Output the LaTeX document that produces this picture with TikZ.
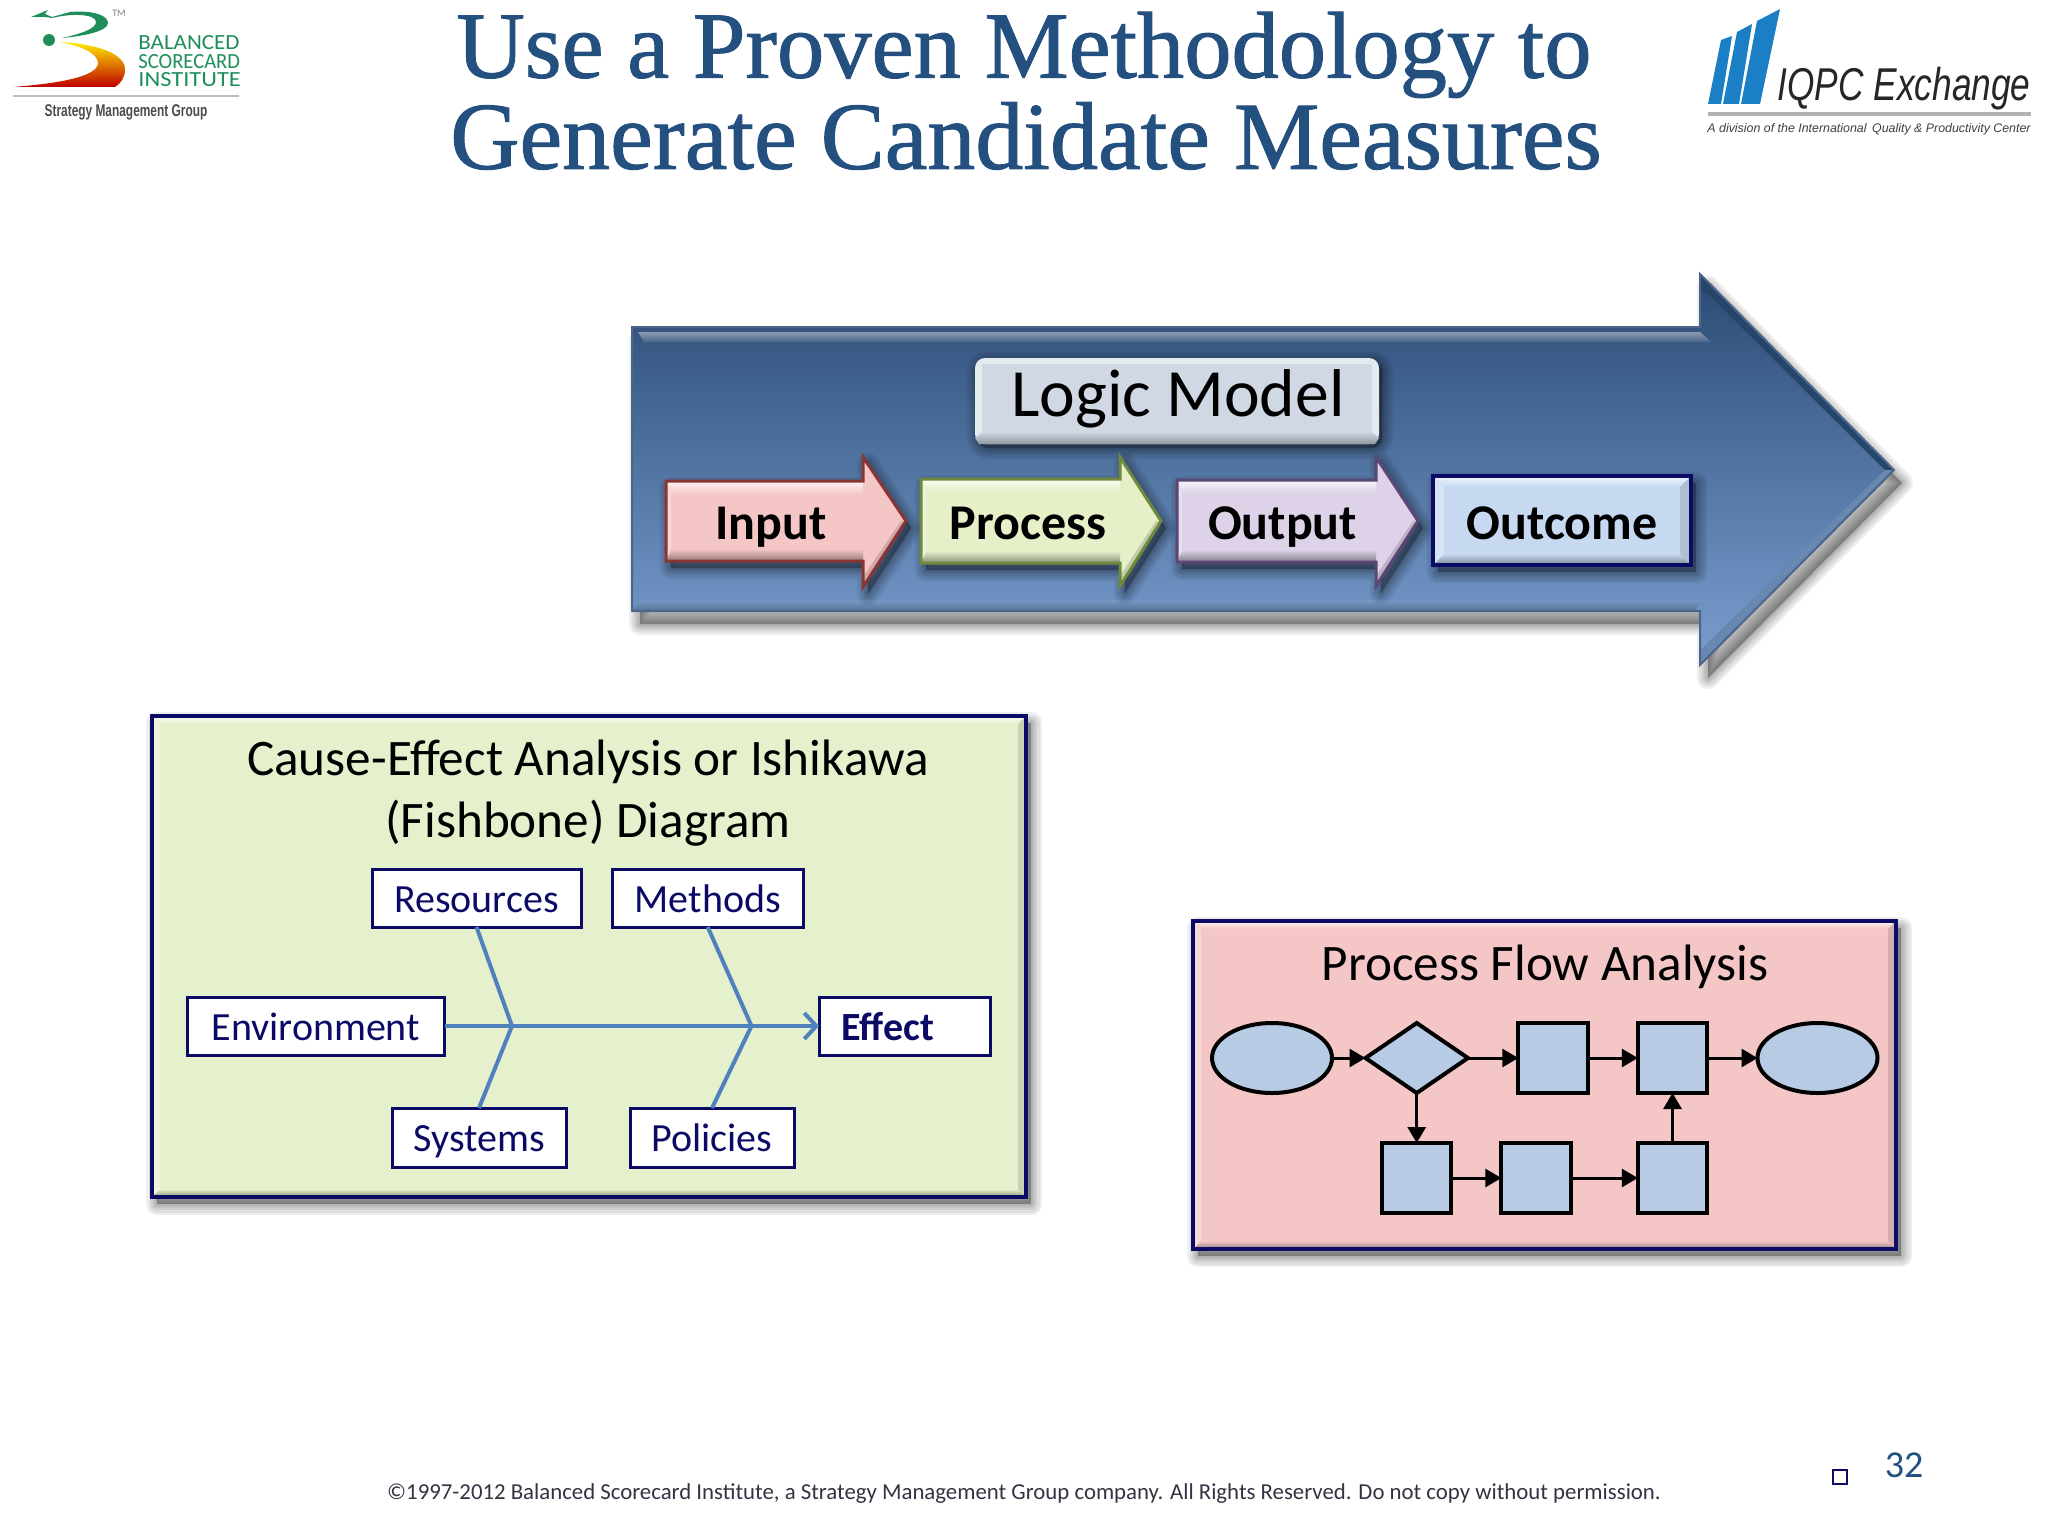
\documentclass[tikz,border=0pt]{standalone}
\usepackage{fontspec}
\setmainfont{Carlito}
\newfontfamily\titlefont[FakeBold=1]{Liberation Serif}
\newfontfamily\logosans{Liberation Sans}
\usetikzlibrary{shapes.geometric,arrows.meta,calc}
\definecolor{navyb}{HTML}{0B0B66}
\definecolor{bone}{HTML}{4F81BD}
\definecolor{flowfill}{HTML}{B7CBE5}
\definecolor{greenp}{HTML}{E5F0CC}
\definecolor{pinkp}{HTML}{F4C6C6}
\definecolor{titleblue}{HTML}{24507F}
\definecolor{logogreen}{HTML}{1E8F5A}
\definecolor{iqblue}{HTML}{1A7FC4}
\definecolor{bigtop}{HTML}{2A4A74}
\definecolor{bigmid}{HTML}{3A6399}
\definecolor{bigbot}{HTML}{7A9FD0}
\definecolor{inf}{HTML}{F5C6C6}
\definecolor{inb}{HTML}{8A3535}
\definecolor{prf}{HTML}{E5EFC8}
\definecolor{prb}{HTML}{6F8A3A}
\definecolor{ouf}{HTML}{DDD2E8}
\definecolor{oub}{HTML}{5B4676}
\definecolor{ocf}{HTML}{C6D9F1}
\definecolor{lmf}{HTML}{D0D8E4}
\definecolor{foot}{HTML}{333344}
\newcommand\fsz[1]{\fontsize{#1}{#1}\selectfont}
\newcommand\softshadow[2]{\begin{scope}[shift={#1}]
  \foreach \w in {11,8.5,6,4,2}{\fill[black,opacity=.065,draw=black,line width=\w pt,line join=round] #2;}
\end{scope}}
\newcommand\bevelpanel[7]{%
  \fill[#5] (#1,#2) rectangle (#3,#4);
  \shade[top color=#5!25!white,bottom color=#5] (#1,#2)--(#3,#2)--({#3-#7},{#2+#7})--({#1+#7},{#2+#7})--cycle;
  \shade[top color=#5,bottom color=#5!62!black] (#1,#4)--(#3,#4)--({#3-#7},{#4-#7})--({#1+#7},{#4-#7})--cycle;
  \fill[#5!70!white] (#1,#2)--({#1+#7},{#2+#7})--({#1+#7},{#4-#7})--(#1,#4)--cycle;
  \fill[#5!88!black] (#3,#2)--({#3-#7},{#2+#7})--({#3-#7},{#4-#7})--(#3,#4)--cycle;
  \draw[#6,line width=2pt] (#1,#2) rectangle (#3,#4);
}
\newcommand\bevelarrow[9]{%
  \softshadow{(5,7)}{(#1,#4)--(#2,#4)--(#2,#6)--(#3,{(#4+#5)/2})--(#2,#7)--(#2,#5)--(#1,#5)--cycle}
  \fill[#8] (#1,#4)--(#2,#4)--(#2,#6)--(#3,{(#4+#5)/2})--(#2,#7)--(#2,#5)--(#1,#5)--cycle;
  \shade[top color=#8!20!white,bottom color=#8] (#1,#4)--(#2,#4)--(#2,{#4+13})--({#1+5},{#4+13})--cycle;
  \shade[top color=#8,bottom color=#8!60!black] (#1,#5)--(#2,#5)--(#2,{#5-12})--({#1+5},{#5-12})--cycle;
  \fill[#8!70!white] (#1,#4)--({#1+5},{#4+13})--({#1+5},{#5-12})--(#1,#5)--cycle;
  \fill[#8!85!black] (#3,{(#4+#5)/2})--(#2,#7)--(#2,{#7-10})--({#3-5},{(#4+#5)/2})--cycle;
  \draw[#9,line width=1.5pt,line join=miter] (#1,#4)--(#2,#4)--(#2,#6)--(#3,{(#4+#5)/2})--(#2,#7)--(#2,#5)--(#1,#5)--cycle;
}
\tikzset{
  x=0.5pt,y=-0.5pt,
  titletext/.style={font=\titlefont\fsz{47.3}, text=titleblue, inner sep=0pt, align=center},
  chevtext/.style={font=\bfseries\fsz{25}, text=black, inner sep=0pt, text height=16.5pt, text depth=0pt},
  paneltitle/.style={font=\fsz{25.6}, text=black, inner sep=0pt, align=center},
  fishbox/.style={draw=navyb, line width=1.5pt, fill=white, text=navyb, font=\fsz{20}, inner sep=0pt, outer sep=0pt, text height=14pt, text depth=0pt},
  bonea/.style={draw=bone, line width=2pt},
  flownode/.style={draw=black, line width=2pt, fill=flowfill, inner sep=0pt, outer sep=0pt},
  flowbox/.style={flownode, rectangle, minimum width=34.7pt, minimum height=35pt},
  flowlink/.style={draw=black, line width=1.5pt, -{Triangle[length=8pt,width=9pt]}},
  logoword/.style={text=logogreen, font=\fsz{10.8}, inner sep=0pt, anchor=west, text height=7pt, text depth=0pt},
}
\begin{document}
\begin{tikzpicture}
\useasboundingbox (0,0) rectangle (2048,1536);
\fill[white] (0,0) rectangle (2048,1536);

% left logo
\fill[logogreen] (31,17)--(48,10)--(45,14)--(52,17)--(70,12) .. controls (95,10) and (108,16) .. (108,23)
  .. controls (108,31) and (85,36) .. (62,38) .. controls (80,34) and (96,29) .. (96,22) .. controls (96,14) and (72,13) .. (52,18) -- (45,17) -- cycle;
\fill[logogreen] (49,40) circle (6);
\shade[top color=yellow!85!orange,middle color=orange!85!yellow,bottom color=red!75!black]
  (60,42) .. controls (100,44) and (126,55) .. (125,70) .. controls (125,78) and (120,84) .. (115,87)
  -- (13,87) .. controls (50,84) and (100,78) .. (98,62) .. controls (96,52) and (80,46) .. (60,42) -- cycle;
\node[font=\fsz{5},text=gray,inner sep=0pt] (tm) at (119,13) {TM};
\node[logoword,xscale=1.065] (bal) at (138,43) {BALANCED};
\node[logoword,xscale=.954] (sco) at (138,61.5) {SCORECARD};
\node[logoword,xscale=1.13] (ins) at (138,80) {INSTITUTE};
\fill[black!25] (13,95) rectangle (239,97);
\node[font=\logosans\bfseries\fsz{8.5},text=black!70,inner sep=0pt,xscale=.7] (smg) at (126,112) {Strategy Management Group};

% title
\node[titletext] (t1) at (1024,55) {Use a Proven Methodology to};
\node[titletext,font=\titlefont\fsz{48}] (t2) at (1026,136) {Generate Candidate Measures};

% right logo
\fill[iqblue] (1708,104)--(1721,40)--(1732,36)--(1721,104)--cycle;
\fill[iqblue] (1723,104)--(1737,32)--(1752,24)--(1739,104)--cycle;
\fill[iqblue] (1741,104)--(1757,21)--(1780,9)--(1760,104)--cycle;
\node[font=\logosans\itshape\fsz{23},text=black!85,inner sep=0pt,xscale=.767] (iq) at (1904,89) {IQPC Exchange};
\fill[black!30] (1708,112) rectangle (2031,116);
\node[font=\logosans\itshape\fsz{6.2},text=black!75,inner sep=0pt] (iq2) at (1869,129) {A division of the International\, Quality \& Productivity Center};

% big arrow
\softshadow{(8,13)}{(632,327)--(1700,327)--(1700,274)--(1894,470)--(1700,665)--(1700,611)--(632,611)--cycle}
\shade[top color=bigtop,middle color=bigmid,bottom color=bigbot] (632,327)--(1700,327)--(1700,274)--(1894,470)--(1700,665)--(1700,611)--(632,611)--cycle;
\shade[top color=bigtop!55!white,bottom color=bigtop!85!white] (638,332)--(1700,332)--(1711,342)--(644,342)--cycle;
\shade[top color=bigbot!95!black,bottom color=bigbot!72!black] (640,600)--(1701,600)--(1695,611)--(632,611)--cycle;
\fill[bigtop!92!black] (1700,274)--(1894,470)--(1885,470)--(1710,296)--(1700,290)--cycle;
\fill[bigbot!85!black] (1700,665)--(1894,470)--(1885,470)--(1700,650)--cycle;
\draw[bigtop!85!white,line width=1pt] (632,327)--(1700,327)--(1700,274)--(1894,470)--(1700,665)--(1700,611)--(632,611)--cycle;

% logic model box
\softshadow{(3,4)}{[rounded corners=5pt] (975,358) rectangle (1379,444)}
\fill[lmf!55!white,rounded corners=5pt] (975,358) rectangle (1379,444);
\fill[lmf] (982,364) rectangle (1372,432);
\shade[top color=lmf,bottom color=lmf!70!black] (982,432)--(1372,432)--(1379,438)--(1375,444)--(979,444)--(975,438)--cycle;
\node[font=\fsz{33.8},text=black,inner sep=0pt] (lm) at (1178,399) {Logic Model};

% chevrons
\bevelarrow{666}{863}{906}{481}{561}{457}{587}{inf}{inb}
\node[chevtext] (inp) at (771,523) {Input};
\bevelarrow{921}{1120}{1161}{479}{563}{457}{586}{prf}{prb}
\node[chevtext] (pro) at (1028,523) {Process};
\bevelarrow{1177}{1376}{1418}{480}{562}{457}{586}{ouf}{oub}
\node[chevtext] (out) at (1282.5,523) {Output};
\softshadow{(5,7)}{(1433,476) rectangle (1691,565)}
\bevelpanel{1433}{476}{1691}{565}{ocf}{navyb}{11}
\node[chevtext] (ocm) at (1562,523) {Outcome};

% cause-effect panel
\softshadow{(5,7)}{(152,716) rectangle (1026,1197)}
\bevelpanel{152}{716}{1026}{1197}{greenp}{navyb}{8}
\node[paneltitle] (ce1) at (588,762) {Cause-Effect Analysis or Ishikawa};
\node[paneltitle] (ce2) at (588,823) {(Fishbone) Diagram};
\node[fishbox,minimum width=104.5pt,minimum height=29pt] (res) at (476.5,898) {Resources};
\node[fishbox,minimum width=95.3pt,minimum height=29pt] (met) at (707.7,898) {Methods};
\node[fishbox,minimum width=128.8pt,minimum height=29pt] (env) at (315.8,1026) {Environment};
\node[fishbox,minimum width=85.5pt,minimum height=29pt,font=\bfseries\fsz{20},text width=75pt,inner xsep=5.25pt,align=left] (eff) at (904.5,1026) {\hspace{6pt}Effect};
\node[fishbox,minimum width=87pt,minimum height=29.5pt] (sys) at (479,1137.5) {Systems};
\node[fishbox,minimum width=82pt,minimum height=29.5pt] (pol) at (712,1137.5) {Policies};
\coordinate (j1) at (512,1026);
\coordinate (j2) at (751.5,1026);
\draw[bonea] (res.south) -- (j1) -- (sys.north);
\draw[bonea] (met.south) -- (j2) -- (pol.north);
\draw[bonea,-{Straight Barb[length=6pt,width=13pt]}] (env.east) -- (eff.west);

% process-flow panel
\softshadow{(5,7)}{(1193,921) rectangle (1896,1249)}
\bevelpanel{1193}{921}{1896}{1249}{pinkp}{navyb}{8}
\node[paneltitle] (pf) at (1545,967) {Process Flow Analysis};
\node[flownode,ellipse,minimum width=60pt,minimum height=35pt] (e1) at (1272,1058) {};
\node[flownode,diamond,aspect=1.47,minimum width=51.2pt,minimum height=35pt] (d1) at (1416.7,1058) {};
\node[flowbox] (r1) at (1553,1058) {};
\node[flowbox] (r2) at (1672.5,1058) {};
\node[flownode,ellipse,minimum width=60pt,minimum height=35pt] (e2) at (1817.5,1058) {};
\node[flowbox] (r3) at (1416.7,1178) {};
\node[flowbox] (r4) at (1536,1178) {};
\node[flowbox] (r5) at (1672.5,1178) {};
\draw[flowlink] (e1) -- (d1);
\draw[flowlink] (d1) -- (r1);
\draw[flowlink] (r1) -- (r2);
\draw[flowlink] (r2) -- (e2);
\draw[flowlink] (d1.south) -- (r3.north);
\draw[flowlink] (r3) -- (r4);
\draw[flowlink] (r4) -- (r5);
\draw[flowlink] (r5) -- (r2);

% footer
\node[font=\fsz{11.4},text=foot,inner sep=0pt] (ft) at (1024,1494) {©1997-2012 Balanced Scorecard Institute, a Strategy Management Group company. All Rights Reserved. Do not copy without permission.};
\node[font=\fsz{19},text=titleblue,inner sep=0pt] (pg) at (1904,1465) {32};
\node[draw=navyb,line width=1.2pt,fill=white,minimum size=7pt,inner sep=0pt] (sq) at (1840,1477) {};
\end{tikzpicture}
\end{document}
